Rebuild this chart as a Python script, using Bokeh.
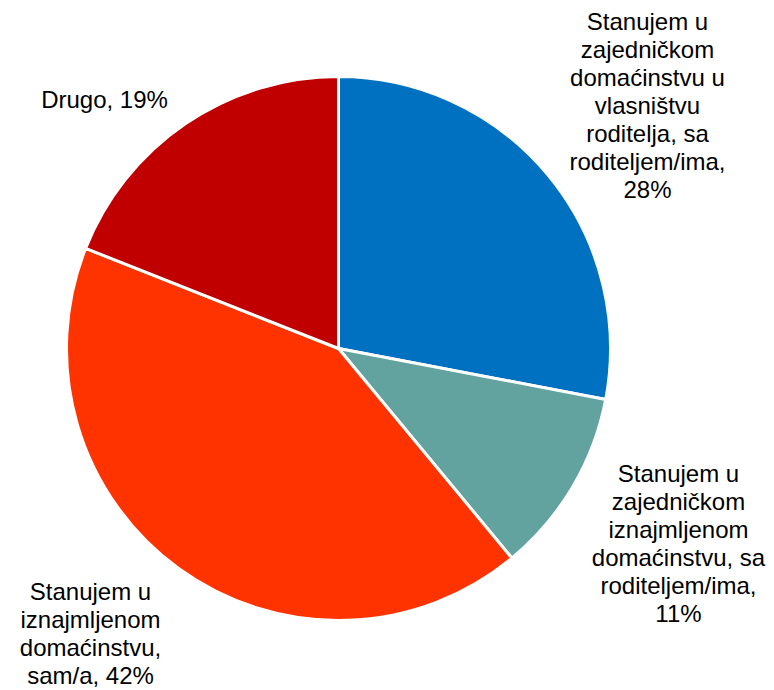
import math
from bokeh.plotting import figure
from bokeh.models import Range1d, ColumnDataSource
from bokeh.core.properties import value
from bokeh.embed import file_html
from bokeh.resources import INLINE

categories = [
    "Stanujem u\nzajedničkom\ndomaćinstvu u\nvlasništvu\nroditelja, sa\nroditeljem/ima",
    "Stanujem u\nzajedničkom\niznajmljenom\ndomaćinstvu, sa\nroditeljem/ima",
    "Stanujem u\niznajmljenom\ndomaćinstvu,\nsam/a",
    "Drugo",
]
shares = [28, 11, 42, 19]
colors = ["#0070C0", "#62A39F", "#FF3300", "#C00000"]

# label anchor positions (screen coords, y measured from top)
label_x = [647, 678, 90, 104]
label_y = [105, 543, 633, 99]
label_sep = [",\n", ",\n", ", ", ", "]

W, H = 774, 690
p = figure(width=W, height=H, output_backend="svg", toolbar_location=None,
           x_range=Range1d(0, W), y_range=Range1d(0, H),
           min_border=0, outline_line_color=None)
p.axis.visible = False
p.grid.visible = False
p.background_fill_color = "white"
p.border_fill_color = "white"

cx, cy, r = 338, H - 348, 272
total = sum(shares)
starts, ends = [], []
a = math.pi / 2
for s in shares:
    e = a - 2 * math.pi * s / total
    starts.append(e)
    ends.append(a)
    a = e

src = ColumnDataSource(dict(start=starts, end=ends, color=colors))
p.wedge(x=cx, y=cy, radius=r, start_angle="start", end_angle="end",
        fill_color="color", line_color="white", line_width=3, source=src)

texts = [c + sep + f"{v}%" for c, sep, v in zip(categories, label_sep, shares)]
tsrc = ColumnDataSource(dict(x=label_x, y=[H - y for y in label_y], t=texts))
p.text(x="x", y="y", text="t", source=tsrc, text_align="center",
       text_baseline="middle", text_font=value("Liberation Sans"),
       text_font_size="24px", text_line_height=1.035, text_color="black")

open("out.html", "w").write(file_html(p, INLINE))
